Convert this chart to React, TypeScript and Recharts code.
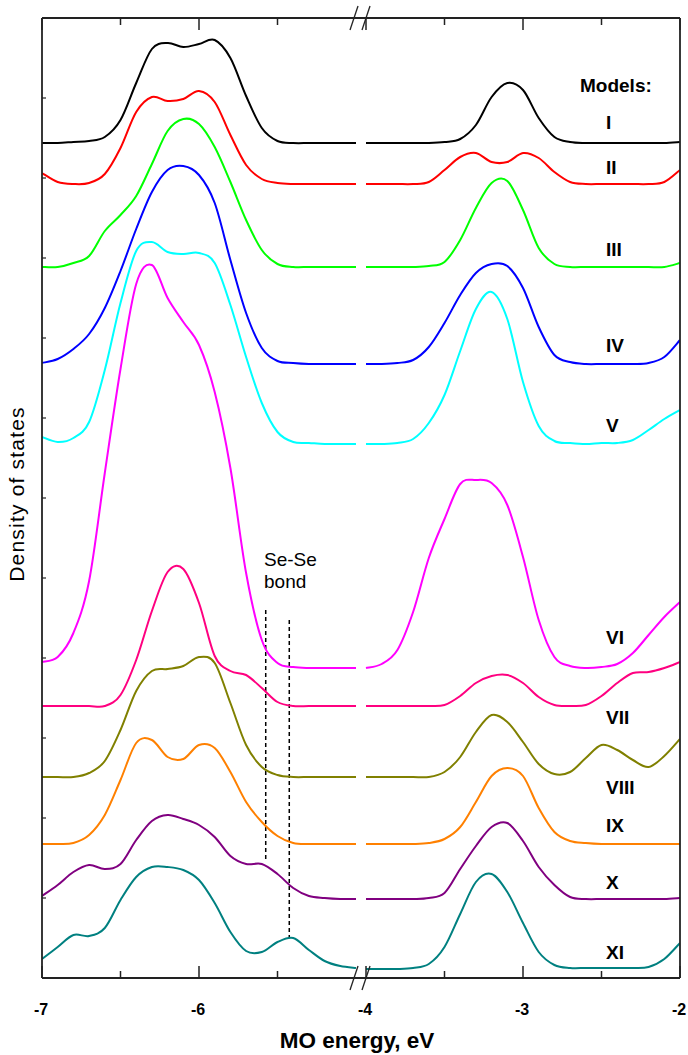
import { LineChart, Line, XAxis, YAxis, ReferenceLine } from "recharts";

// Energies (eV) sampled on each side of the axis break
const LEFT_E = [-7.0, -6.9, -6.8, -6.7, -6.6, -6.5, -6.4, -6.3, -6.2, -6.1, -6.0, -5.9, -5.8, -5.7, -5.6, -5.5, -5.4, -5.3, -5.2, -5.1, -5.0];
const RIGHT_E = [-4.0, -3.9, -3.8, -3.7, -3.6, -3.5, -3.4, -3.3, -3.2, -3.1, -3.0, -2.9, -2.8, -2.7, -2.6, -2.5, -2.4, -2.3, -2.2, -2.1, -2.0];

// Density of states, curves stacked with offsets (arbitrary units)
const I_LEFT = [835, 835, 836, 837, 841, 858, 895, 929, 935, 931, 934, 938, 920, 882, 850, 837, 835, 835, 835, 835, 835];
const I_RIGHT = [835, 835, 835, 835, 835, 836, 839, 853, 881, 895, 888, 860, 841, 836, 835, 835, 835, 835, 835, 835, 836];
const II_LEFT = [805, 796, 794, 795, 804, 830, 866, 881, 877, 879, 887, 876, 843, 813, 799, 795, 794, 794, 794, 794, 794];
const II_RIGHT = [794, 794, 794, 794, 796, 808, 821, 825, 816, 816, 825, 820, 806, 796, 794, 794, 794, 794, 794, 796, 808];
const III_LEFT = [711, 711, 715, 722, 747, 763, 782, 814, 847, 859, 854, 831, 796, 758, 728, 714, 711, 711, 711, 711, 711];
const III_RIGHT = [711, 711, 711, 711, 712, 716, 738, 770, 795, 797, 768, 730, 714, 711, 711, 711, 711, 711, 711, 711, 715];
const IV_LEFT = [615, 619, 629, 644, 670, 707, 749, 786, 808, 812, 803, 775, 718, 665, 630, 617, 615, 614, 614, 614, 614];
const IV_RIGHT = [614, 614, 615, 618, 631, 655, 683, 705, 714, 712, 690, 651, 623, 616, 614, 614, 614, 614, 615, 621, 638];
const V_LEFT = [541, 536, 540, 556, 608, 675, 727, 736, 726, 724, 725, 715, 673, 621, 575, 546, 536, 535, 534, 534, 534];
const V_RIGHT = [534, 534, 535, 539, 555, 583, 627, 669, 686, 659, 596, 552, 537, 535, 534, 535, 535, 538, 548, 559, 568];
const VI_LEFT = [316, 321, 345, 397, 505, 609, 694, 713, 680, 656, 633, 586, 510, 405, 338, 315, 311, 310, 310, 310, 310];
const VI_RIGHT = [310, 314, 328, 366, 420, 459, 494, 498, 495, 473, 421, 358, 321, 312, 310, 311, 314, 325, 343, 361, 376];
const VII_LEFT = [272, 272, 272, 272, 272, 283, 318, 367, 406, 409, 375, 322, 307, 303, 290, 276, 272, 272, 272, 272, 272];
const VII_RIGHT = [272, 272, 272, 272, 272, 273, 282, 295, 302, 303, 295, 281, 273, 272, 273, 282, 295, 305, 306, 310, 316];
const VIII_LEFT = [201, 201, 201, 205, 217, 248, 287, 307, 309, 312, 321, 315, 275, 233, 211, 203, 201, 201, 201, 201, 201];
const VIII_RIGHT = [201, 201, 201, 201, 201, 206, 221, 246, 263, 256, 236, 214, 204, 206, 220, 233, 228, 218, 211, 222, 239];
const IX_LEFT = [134, 134, 135, 143, 163, 198, 235, 238, 221, 219, 233, 230, 206, 176, 156, 142, 135, 134, 134, 134, 134];
const IX_RIGHT = [134, 134, 134, 134, 135, 139, 151, 176, 202, 210, 202, 170, 146, 137, 135, 134, 134, 134, 134, 134, 134];
const X_LEFT = [82, 93, 106, 113, 109, 114, 138, 157, 163, 159, 153, 141, 122, 114, 114, 104, 90, 82, 80, 79, 79];
const X_RIGHT = [79, 79, 79, 79, 80, 85, 109, 132, 151, 155, 137, 111, 93, 81, 79, 79, 79, 79, 79, 79, 80];
const XI_LEFT = [19, 31, 43, 42, 50, 78, 101, 111, 111, 108, 98, 75, 46, 27, 26, 36, 40, 28, 17, 12, 10];
const XI_RIGHT = [9, 9, 9, 10, 14, 31, 64, 96, 104, 86, 55, 26, 13, 10, 10, 10, 10, 10, 11, 19, 35];

const MODEL_NAMES = ["I", "II", "III", "IV", "V", "VI", "VII", "VIII", "IX", "X", "XI"];
const LEFT_VALUES = [I_LEFT, II_LEFT, III_LEFT, IV_LEFT, V_LEFT, VI_LEFT, VII_LEFT, VIII_LEFT, IX_LEFT, X_LEFT, XI_LEFT];
const RIGHT_VALUES = [I_RIGHT, II_RIGHT, III_RIGHT, IV_RIGHT, V_RIGHT, VI_RIGHT, VII_RIGHT, VIII_RIGHT, IX_RIGHT, X_RIGHT, XI_RIGHT];

// Se-Se bond markers: energy, top, bottom
const BOND_E = [-5.575, -5.425];
const BOND_TOP = [368, 358];
const BOND_BOTTOM = [119, 41];

const X_TICK_E = [-7, -6.5, -6, -5.5, -4, -3.5, -3, -2.5, -2];
const Y_TICKS = [80, 160, 240, 320, 400, 480, 560, 640, 720, 800, 880];

const COLORS = ["#000000", "#ff0000", "#00ff00", "#0000ff", "#00ffff", "#ff00ff", "#ff0080", "#808000", "#ff8000", "#800080", "#008080"];
const LABEL_Y = [129, 174, 256, 352, 432, 644, 724, 794, 832, 889, 959];

const FONT = "'Liberation Sans', Arial, Helvetica, sans-serif";
const AXIS = "#222";

// the -5..-4 interval is squeezed into a small gap
const GAP = 10 / 157;
const toU = (e: number) => (e <= -5 ? e : e - 1 + GAP);
const toE = (u: number) => (u <= -5 + 1e-9 ? u : u + 1 - GAP);
const BREAK_U = -4.9745;
const U_MIN = -7;
const U_MAX = toU(-2);
const X_TICKS = [...X_TICK_E.filter((e) => e <= -5).map(toU), BREAK_U, ...X_TICK_E.filter((e) => e > -5).map(toU)];

const rows: Record<string, number | null>[] = [];
LEFT_E.forEach((e, i) => {
  const r: Record<string, number | null> = { u: e };
  MODEL_NAMES.forEach((m, k) => (r[m] = LEFT_VALUES[k][i]));
  rows.push(r);
});
const gapRow: Record<string, number | null> = { u: BREAK_U };
MODEL_NAMES.forEach((m) => (gapRow[m] = null));
rows.push(gapRow);
RIGHT_E.forEach((e, i) => {
  const r: Record<string, number | null> = { u: toU(e) };
  MODEL_NAMES.forEach((m, k) => (r[m] = RIGHT_VALUES[k][i]));
  rows.push(r);
});

// Catmull-Rom curve (passes through the points, no global ringing)
function catmullRom(context: any) {
  let pts: number[][] = [];
  return {
    areaStart() {},
    areaEnd() {},
    lineStart() {
      pts = [];
    },
    lineEnd() {
      const n = pts.length;
      if (!n) return;
      context.moveTo(pts[0][0], pts[0][1]);
      for (let i = 0; i < n - 1; i++) {
        const p0 = pts[i - 1] || pts[i];
        const p1 = pts[i];
        const p2 = pts[i + 1];
        const p3 = pts[i + 2] || p2;
        context.bezierCurveTo(
          p1[0] + (p2[0] - p0[0]) / 6,
          p1[1] + (p2[1] - p0[1]) / 6,
          p2[0] - (p3[0] - p1[0]) / 6,
          p2[1] - (p3[1] - p1[1]) / 6,
          p2[0],
          p2[1],
        );
      }
    },
    point(x: number, y: number) {
      pts.push([+x, +y]);
    },
  };
}

function XTick(props: any) {
  const { x, y, payload, top } = props;
  const u = payload.value as number;
  if (Math.abs(u - BREAK_U) < 1e-6) {
    return (
      <g stroke={AXIS} strokeWidth={1.3}>
        <line x1={x - 10} y1={y + 12} x2={x - 2} y2={y - 12} />
        <line x1={x + 2} y1={y + 12} x2={x + 10} y2={y - 12} />
      </g>
    );
  }
  const e = Math.round(toE(u) * 10) / 10;
  const major = Number.isInteger(e);
  const len = major ? 12 : 7;
  const dir = top ? 1 : -1;
  return (
    <g>
      <line x1={x} y1={y} x2={x} y2={y + dir * len} stroke={AXIS} strokeWidth={1.5} />
      {!top && major && (
        <text x={x - 1} y={y + 37} textAnchor="middle" fontSize={16} fontWeight="bold" fontFamily={FONT} fill="#000">
          {String(e)}
        </text>
      )}
    </g>
  );
}

function YTick(props: any) {
  const { x, y, right } = props;
  return <line x1={x} y1={y} x2={x + (right ? -4 : 4)} y2={y} stroke={AXIS} strokeWidth={1.2} />;
}

export default function App() {
  return (
    <div style={{ position: "absolute", left: 0, top: 0, width: 688, height: 1055, background: "#fff" }}>
      <LineChart width={688} height={1055} data={rows} margin={{ top: 17, right: 7, bottom: 76, left: 41 }}>
        <XAxis
          xAxisId="b"
          dataKey="u"
          type="number"
          domain={[U_MIN, U_MAX]}
          ticks={X_TICKS}
          interval={0}
          height={1}
          tickSize={0}
          tickMargin={0}
          tickLine={false}
          tick={(p: any) => <XTick {...p} top={false} />}
          axisLine={{ stroke: AXIS, strokeWidth: 1.8 }}
          allowDataOverflow
        />
        <XAxis
          xAxisId="t"
          orientation="top"
          dataKey="u"
          type="number"
          domain={[U_MIN, U_MAX]}
          ticks={X_TICKS}
          interval={0}
          height={1}
          tickSize={0}
          tickMargin={0}
          tickLine={false}
          tick={(p: any) => <XTick {...p} top={true} />}
          axisLine={{ stroke: AXIS, strokeWidth: 1.8 }}
          allowDataOverflow
        />
        <YAxis
          yAxisId="l"
          type="number"
          domain={[0, 960]}
          ticks={Y_TICKS}
          interval={0}
          width={1}
          tickSize={0}
          tickMargin={0}
          tickLine={false}
          tick={(p: any) => <YTick {...p} right={false} />}
          axisLine={{ stroke: AXIS, strokeWidth: 1.8 }}
        />
        <YAxis
          yAxisId="r"
          orientation="right"
          type="number"
          domain={[0, 960]}
          ticks={Y_TICKS}
          interval={0}
          width={1}
          tickSize={0}
          tickMargin={0}
          tickLine={false}
          tick={(p: any) => <YTick {...p} right={true} />}
          axisLine={{ stroke: AXIS, strokeWidth: 1.8 }}
        />
        {BOND_E.map((e, i) => (
          <ReferenceLine
            key={"bond" + i}
            xAxisId="b"
            yAxisId="l"
            segment={[
              { x: e, y: BOND_TOP[i] },
              { x: e, y: BOND_BOTTOM[i] },
            ]}
            stroke="#000"
            strokeWidth={1.5}
            strokeDasharray="4 3"
          />
        ))}
        {MODEL_NAMES.map((m, k) => (
          <Line
            key={m}
            xAxisId="b"
            yAxisId="l"
            type={catmullRom as any}
            dataKey={m}
            stroke={COLORS[k]}
            strokeWidth={2}
            dot={false}
            activeDot={false}
            connectNulls={false}
            isAnimationActive={false}
          />
        ))}
      </LineChart>
      <svg
        width={688}
        height={1055}
        style={{ position: "absolute", left: 0, top: 0, pointerEvents: "none" }}
        fontFamily={FONT}
      >
        <text x={580} y={92} fontSize={19} fontWeight="bold">
          Models:
        </text>
        {MODEL_NAMES.map((m, k) => (
          <text key={m} x={606} y={LABEL_Y[k]} fontSize={19} fontWeight="bold">
            {m}
          </text>
        ))}
        <text x={264} y={566} fontSize={19}>
          Se-Se
        </text>
        <text x={264} y={588} fontSize={19}>
          bond
        </text>
        <text x={357} y={1048} textAnchor="middle" fontSize={22.5} fontWeight="bold">
          MO energy, eV
        </text>
        <text transform="translate(24,494) rotate(-90)" textAnchor="middle" fontSize={21} letterSpacing={1.2}>
          Density of states
        </text>
      </svg>
    </div>
  );
}
